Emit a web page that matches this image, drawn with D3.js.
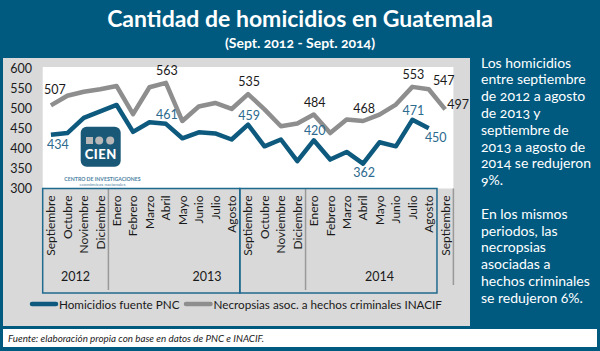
<!DOCTYPE html>
<html>
<head>
<meta charset="utf-8">
<script src="https://cdn.jsdelivr.net/npm/d3@7"></script>
<style>
body { margin: 0; background: #fff; }
svg { display: block; }
text { font-family: Lato, "Open Sans", sans-serif; }
</style>
</head>
<body>
<script>

// Chart size
const W = 600, H = 351;

// Data
const months = ["Septiembre","Octubre","Noviembre","Diciembre",
  "Enero","Febrero","Marzo","Abril","Mayo","Junio","Julio","Agosto",
  "Septiembre","Octubre","Noviembre","Diciembre",
  "Enero","Febrero","Marzo","Abril","Mayo","Junio","Julio","Agosto","Septiembre"];
const years = [2012,2012,2012,2012,
  2013,2013,2013,2013,2013,2013,2013,2013,2013,2013,2013,2013,
  2014,2014,2014,2014,2014,2014,2014,2014,2014];
const pnc = [434, 438, 476, 492, 508, 441, 465, 461, 425, 440, 437, 422,
  459, 405, 422, 368, 420, 372, 391, 362, 415, 405, 471, 450];
const inacif = [507, 531, 541, 547, 555, 485, 552, 563, 468, 504, 513, 498,
  535, 497, 455, 462, 484, 438, 472, 468, 484, 509, 553, 547, 497];
const pncLabelIdx = [0, 7, 12, 16, 19, 22, 23];
const inacifLabelIdx = [0, 7, 12, 16, 19, 22, 23, 24];
const yTicks = [300, 350, 400, 450, 500, 550, 600];
const seriesNames = ["Homicidios fuente PNC", "Necropsias asoc. a hechos criminales INACIF"];
const noteLines = ["Los homicidios", "entre septiembre", "de 2012  a agosto", "de 2013 y",
  "septiembre de", "2013 a agosto de", "2014 se redujeron", "9%.", "",
  "En los mismos", "periodos, las", "necropsias", "asociadas a",
  "hechos criminales", "se redujeron 6%."];

const blue = "#0e5a7e", gray = "#8e8e8e", bg = "#005a80";

const svg = d3.select("body").append("svg")
  .attr("width", W).attr("height", H);

// backgrounds
svg.append("rect").attr("width", W).attr("height", H).attr("fill", bg);
svg.append("rect").attr("x", 3).attr("y", 58).attr("width", 467).attr("height", 268).attr("fill", "#d9d9d9");
svg.append("rect").attr("x", 3).attr("y", 329).attr("width", 594).attr("height", 18).attr("fill", "#fff");

// title
svg.append("text").attr("x", 300).attr("y", 27).attr("text-anchor", "middle")
  .attr("fill", "#fff").style("font-size", "23px").style("font-weight", "bold")
  .text("Cantidad de homicidios en Guatemala");
svg.append("text").attr("x", 300).attr("y", 48).attr("text-anchor", "middle")
  .attr("fill", "#fff").style("font-size", "14px").style("font-weight", "bold")
  .style("font-variant-numeric", "oldstyle-nums")
  .text("(Sept. 2012 - Sept. 2014)");

// scales
const x = d3.scaleBand().domain(d3.range(months.length)).range([42.7, 453.4]);
const y = d3.scaleLinear().domain([300, 600]).range([188.5, 68]);
const xc = i => x(i) + x.bandwidth() / 2;

// plot area
svg.append("rect").attr("x", 42.7).attr("y", 67).attr("width", 410.7).attr("height", 121.5).attr("fill", "#fff");

// logo
const logo = svg.append("g");
logo.append("rect").attr("x", 80.7).attr("y", 126.7).attr("width", 40).attr("height", 40)
  .attr("rx", 6).attr("fill", "#1a5878");
logo.append("rect").attr("x", 86).attr("y", 137).attr("width", 7).attr("height", 7).attr("fill", "#b8b8b8");
logo.append("circle").attr("cx", 99.2).attr("cy", 140.5).attr("r", 4).attr("fill", "#b8b8b8");
logo.append("circle").attr("cx", 110.2).attr("cy", 140.5).attr("r", 4).attr("fill", "#b8b8b8");
logo.append("text").attr("x", 100.7).attr("y", 158.5).attr("text-anchor", "middle")
  .attr("fill", "#fff").style("font-size", "13px").style("font-weight", "900")
  .style("letter-spacing", "0.5px").text("CIEN");
logo.append("text").attr("x", 102.5).attr("y", 180.5).attr("text-anchor", "middle")
  .attr("fill", "#4d82a3").style("font-size", "5.2px").style("font-weight", "bold")
  .text("CENTRO DE INVESTIGACIONES");
logo.append("text").attr("x", 102.5).attr("y", 185.5).attr("text-anchor", "middle")
  .attr("fill", "#4d82a3").style("font-size", "4.6px")
  .text("económicas nacionales");

// y axis
const yAxis = svg.append("g").attr("transform", "translate(32,0)")
  .call(d3.axisLeft(y).tickValues(yTicks).tickSize(0).tickPadding(0));
yAxis.select(".domain").remove();
yAxis.selectAll("text").attr("fill", "#1a1a1a").style("font-size", "12.5px")
  .style("font-family", "Lato, sans-serif");

// category table
const tTop = 188.5, tBot = 293;
const xAxis = svg.append("g").attr("transform", `translate(0,${tTop})`)
  .call(d3.axisBottom(x).tickSize(0).tickFormat(i => months[i]));
xAxis.select(".domain").remove();
xAxis.selectAll("text")
  .attr("transform", "rotate(-90)")
  .attr("x", -7).attr("y", 0).attr("dy", "0.36em")
  .attr("text-anchor", "end")
  .attr("fill", "#1a1a1a").style("font-size", "12px")
  .style("font-family", "Lato, sans-serif");

// year labels and separators
const yearGroups = d3.groups(d3.range(months.length), i => years[i]);
svg.append("g").selectAll("text").data(yearGroups).join("text")
  .attr("x", d => (x(d[1][0]) + x(d[1][d[1].length - 1]) + x.bandwidth()) / 2)
  .attr("y", 281)
  .attr("text-anchor", "middle").attr("fill", "#1a1a1a").style("font-size", "12.5px")
  .text(d => d[0]);
const yearEdges = yearGroups.slice(1).map(d => x(d[1][0])).concat([x(months.length - 1) + x.bandwidth()]);
svg.append("g").selectAll("line").data(yearEdges).join("line")
  .attr("x1", d => d).attr("x2", d => d)
  .attr("y1", tTop).attr("y2", (d, i) => i === yearEdges.length - 1 ? 285 : 290)
  .attr("stroke", "#999").attr("stroke-width", 1.5);

// blue boxes for the Sept-Aug periods
const periodStarts = d3.range(months.length).filter(i => months[i] === "Septiembre");
const periods = d3.pairs(periodStarts);
svg.append("g").selectAll("rect").data(periods).join("rect")
  .attr("x", d => x(d[0])).attr("width", d => x(d[1]) - x(d[0]))
  .attr("y", tTop).attr("height", tBot - tTop)
  .attr("fill", "none").attr("stroke", "#1f6a8f").attr("stroke-width", 1.5);

// lines
const line = d3.line().x((d, i) => xc(i)).y(d => y(d));
svg.append("path").datum(inacif).attr("d", line)
  .attr("fill", "none").attr("stroke", gray).attr("stroke-width", 4.5).attr("stroke-linejoin", "round");
svg.append("path").datum(pnc).attr("d", line)
  .attr("fill", "none").attr("stroke", blue).attr("stroke-width", 4.5).attr("stroke-linejoin", "round");

// data labels
const place = {
  above: { dx: 1, dy: -7, anchor: "middle" },
  aboveLeft: { dx: 4, dy: -11, anchor: "middle" },
  aboveRight: { dx: 15, dy: -4, anchor: "middle" },
  right: { dx: 2, dy: 0, anchor: "start" },
  below: { dx: 1, dy: 13, anchor: "middle" },
  belowRight: { dx: 7, dy: 14, anchor: "middle" }
};
const inacifPlace = { 0: "aboveLeft", 23: "aboveRight", 24: "right" };
const pncPlace = { 0: "belowRight", 19: "below", 23: "belowRight" };

function labels(values, idx, where, color, extraAbove) {
  svg.append("g").selectAll("text").data(idx).join("text")
    .each(function (i) {
      const p = place[where[i] || "above"];
      d3.select(this)
        .attr("x", xc(i) + p.dx)
        .attr("y", y(values[i]) + p.dy + ((where[i] || "above") === "above" ? extraAbove : 0))
        .attr("text-anchor", p.anchor);
    })
    .attr("fill", color).style("font-size", "12.5px")
    .text(i => values[i]);
}
labels(inacif, inacifLabelIdx, inacifPlace, "#1a1a1a", -1);
labels(pnc, pncLabelIdx, pncPlace, "#2c6a8e", 2);

// legend
const legend = svg.append("g");
[[blue, 30, 59], [gray, 184, 213.5]].forEach((d, k) => {
  legend.append("line").attr("x1", d[1] + 2).attr("x2", d[2] - 3).attr("y1", 304).attr("y2", 304)
    .attr("stroke", d[0]).attr("stroke-width", 4.5).attr("stroke-linecap", "round");
  legend.append("text").attr("x", d[2]).attr("y", 308.5).attr("fill", "#1a1a1a")
    .style("font-size", "11.7px").text(seriesNames[k]);
});

// footer
svg.append("text").attr("x", 8).attr("y", 341.5).attr("fill", "#1a1a1a")
  .style("font-size", "9.8px").style("font-style", "italic")
  .text("Fuente: elaboración propia con base en datos de PNC e INACIF.");

// side note
svg.append("g").selectAll("text").data(noteLines).join("text")
  .attr("x", 481).attr("y", (d, k) => 67.5 + k * 16.8)
  .attr("fill", "#fff").style("font-size", "14px")
  .style("font-variant-numeric", "oldstyle-nums")
  .text(d => d);

</script>
</body>
</html>
